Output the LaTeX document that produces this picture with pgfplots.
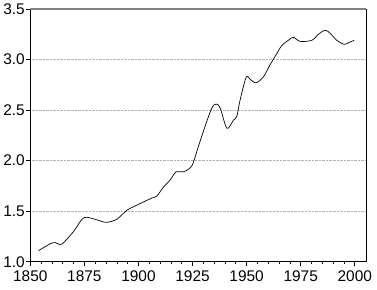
\documentclass[border=0pt]{standalone}
\usepackage{pgfplots}
\pgfplotsset{compat=1.18}
\usepackage{fontspec}
\setmainfont{Liberation Sans}
\begin{document}
\begin{tikzpicture}
\begin{axis}[
  scale only axis,
  width=336bp, height=253bp,
  xmin=1850, xmax=2005.2,
  ymin=1.0, ymax=3.5,
  xtick={1850,1875,...,2000},
  minor x tick num=4,
  ytick={1.0,1.5,...,3.5},
  ymajorgrids,
  grid style={gray!60, densely dotted, line width=0.7pt},
  axis line style={black, line width=0.8pt},
  tick align=outside,
  major tick length=4bp,
  minor tick length=2bp,
  tick style={black, line width=0.6pt},
  ytick pos=left, xtick pos=bottom,
  tick label style={font=\fontsize{15.5}{18}\selectfont},
  /pgf/number format/assume math mode=true,
  xticklabel style={/pgf/number format/1000 sep={}},
  yticklabel style={/pgf/number format/.cd, fixed, fixed zerofill, precision=1},
  xticklabel shift=1bp,
  yticklabel shift=-2bp,
]
\addplot[black, line width=0.7pt, smooth, tension=0.5] coordinates {
(1853.8,1.11) (1859.2,1.178) (1861.5,1.19) (1864.6,1.175) (1870,1.30)
(1873.9,1.42) (1876.2,1.44) (1880.8,1.415) (1885.1,1.39) (1890,1.42)
(1894.7,1.51) (1900.5,1.573) (1906.2,1.63) (1908.5,1.65) (1911.6,1.74)
(1914.7,1.81) (1917.4,1.89) (1920.8,1.89) (1924.7,1.95) (1927.7,2.14)
(1930.8,2.34) (1933.9,2.52) (1935.9,2.56) (1937.8,2.52) (1940.9,2.32)
(1943.9,2.40) (1945.5,2.44) (1947,2.60) (1949.8,2.825) (1951.6,2.805)
(1954.4,2.77) (1957.8,2.83) (1960.9,2.95) (1964,3.06) (1966.3,3.14)
(1969.3,3.19) (1971.6,3.22) (1974.7,3.18) (1980.1,3.19) (1983.2,3.25)
(1986.3,3.29) (1988.6,3.26) (1991.7,3.19) (1995.2,3.15) (1997.5,3.17)
(1999.7,3.19)
};
\draw[gray, line width=1.6pt] (rel axis cs:0,1) -- (rel axis cs:1,1);
\end{axis}
\path (current axis.south west) ++(-30bp,-28bp) rectangle ++(377bp,290bp);
\end{tikzpicture}
\end{document}
